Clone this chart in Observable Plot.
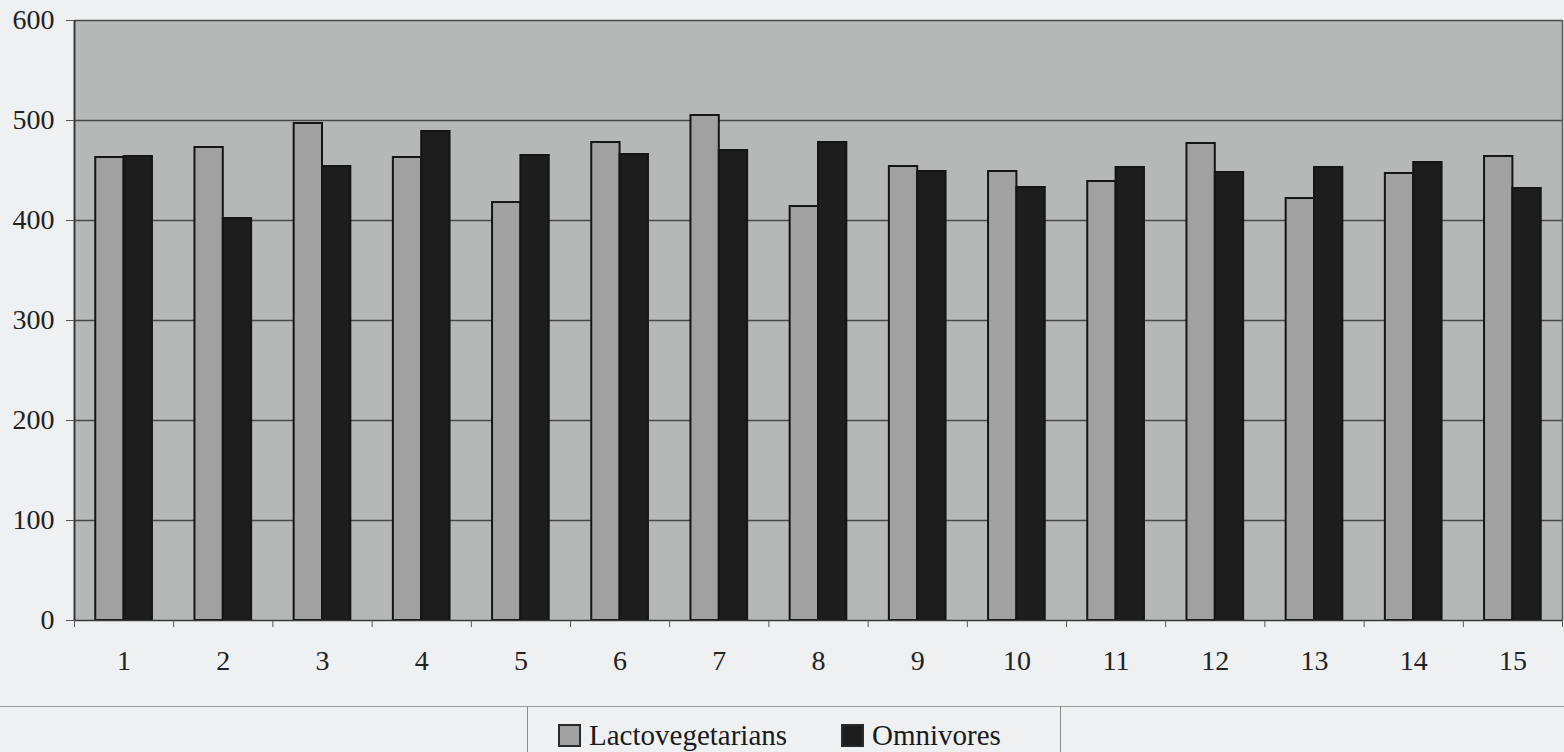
<!DOCTYPE html>
<html>
<head>
<meta charset="utf-8">
<script src="https://cdn.jsdelivr.net/npm/d3@7"></script>
<script src="https://cdn.jsdelivr.net/npm/@observablehq/plot@0.6"></script>
<style>
  html, body { margin: 0; padding: 0; background: #eef0f2; }
  body { width: 1564px; height: 752px; position: relative; overflow: hidden;
         font-family: "Liberation Serif", "Times New Roman", Times, serif; }
  #chart { position: absolute; left: 0; top: 0; }
  #rule { position: absolute; left: 0; top: 706px; width: 1564px; height: 0;
          border-top: 1.5px solid #9a9c9e; }
  #legend { position: absolute; left: 527px; top: 706px; width: 534px; height: 60px;
            border-left: 1.5px solid #8a8c8e; border-right: 1.5px solid #8a8c8e;
            box-sizing: border-box; }
  .item { position: absolute; top: 11px; display: flex; align-items: center;
          font-size: 29px; color: #1a1a1a; line-height: 36px; }
  .sw { width: 19px; height: 19px; border: 2px solid #2a2a2a; margin-right: 8px; }
</style>
</head>
<body>
<div id="chart"></div>
<div id="rule"></div>
<div id="legend"></div>
<script>
// Subject number on the x axis, one value per group per subject
const subjects = [1, 2, 3, 4, 5, 6, 7, 8, 9, 10, 11, 12, 13, 14, 15];
const seriesNames = ["Lactovegetarians", "Omnivores"];
const lactovegetarians = [463, 473, 497, 463, 418, 478, 505, 414, 454, 449, 439, 477, 422, 447, 464];
const omnivores = [464, 402, 454, 489, 465, 466, 470, 478, 449, 433, 453, 448, 453, 458, 432];
const yTicks = [0, 100, 200, 300, 400, 500, 600];
const seriesColors = ["#a1a1a1", "#1d1d1d"];

// Two bars per subject, each 2/7 of a category slot wide, side by side
const barWidth = 2 / 7;
const rows = subjects.flatMap((s, i) => [
  {subject: s, series: seriesNames[0], value: lactovegetarians[i], x1: s - barWidth, x2: s},
  {subject: s, series: seriesNames[1], value: omnivores[i], x1: s, x2: s + barWidth}
]);
const separators = d3.range(0.5, subjects.length + 1, 1);

const chart = Plot.plot({
  width: 1564,
  height: 700,
  marginTop: 20,
  marginBottom: 80,
  marginLeft: 74,
  marginRight: 2,
  style: {fontFamily: '"Liberation Serif", "Times New Roman", Times, serif', fontSize: "28px", color: "#222", background: "transparent"},
  x: {domain: [0.5, subjects.length + 0.5]},
  y: {domain: [0, 600]},
  color: {domain: seriesNames, range: seriesColors},
  marks: [
    Plot.frame({fill: "#b6b7b7", stroke: null}),
    Plot.ruleY(yTicks.filter(d => d > 0), {stroke: "#4a4a4a", strokeWidth: 1.5}),
    Plot.rectY(rows, {x1: "x1", x2: "x2", y: "value", fill: "series", stroke: "#151515", strokeWidth: 2}),
    Plot.ruleY([0], {stroke: "#3a3a3a", strokeWidth: 1.5}),
    Plot.ruleX([0.5], {stroke: "#3a3a3a", strokeWidth: 2}),
    Plot.ruleX([subjects.length + 0.5], {stroke: "#5a5a5a", strokeWidth: 1.5}),
    Plot.axisY(yTicks, {tickSize: 8, tickPadding: 12, stroke: "#555", fontSize: 28, label: null}),
    Plot.axisX(separators, {tickSize: 7, tickFormat: () => "", stroke: "#555", label: null}),
    Plot.axisX(subjects, {tickSize: 0, tickPadding: 30, fontSize: 28, label: null})
  ]
});
document.getElementById("chart").appendChild(chart);

// Legend row below the chart
const legend = document.getElementById("legend");
const offsets = [30, 313];
seriesNames.forEach((name, i) => {
  const item = document.createElement("div");
  item.className = "item";
  item.style.left = offsets[i] + "px";
  const sw = document.createElement("div");
  sw.className = "sw";
  sw.style.background = seriesColors[i];
  const label = document.createElement("span");
  label.textContent = name;
  item.appendChild(sw);
  item.appendChild(label);
  legend.appendChild(item);
});
</script>
</body>
</html>
